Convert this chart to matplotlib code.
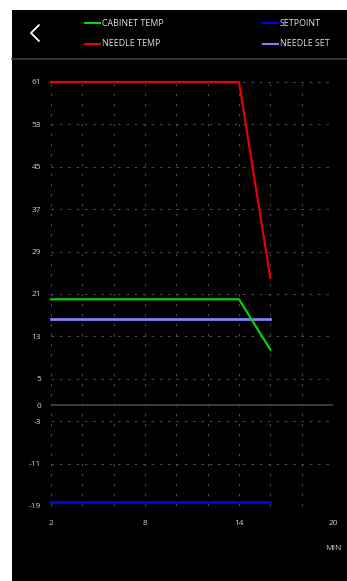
import matplotlib
matplotlib.use("Agg")
import matplotlib.pyplot as plt
from matplotlib.lines import Line2D
from matplotlib.patches import Rectangle

minutes = [2, 14, 16]
needle_temp = [61, 61, 24]
cabinet_temp = [20, 20, 10.5]
setpoint_x = [2, 16]
setpoint = [-18.2, -18.2]
needle_set_x = [2, 16]
needle_set = [16.3, 16.3]

y_ticks = [61, 53, 45, 37, 29, 21, 13, 5, 0, -3, -11, -19]
x_ticks = [2, 8, 14, 20]

series = ["CABINET TEMP", "NEEDLE TEMP", "SETPOINT", "NEEDLE SET"]
colors = ["#00dd00", "#ee0000", "#0000ee", "#8080ff"]

W, H = 347, 581
fig = plt.figure(figsize=(W / 100, H / 100), dpi=100)
fig.patch.set_facecolor("white")

def fx(px):
    return px / W

def fy(py):
    return 1 - py / H

# black screen panel + header separator
fig.add_artist(Rectangle((fx(12), 0), 1 - fx(12), fy(10), transform=fig.transFigure,
                         facecolor="black", edgecolor="none", zorder=0))
fig.add_artist(Line2D([fx(12), 1], [fy(59), fy(59)], color="#3a3a3a", lw=1.2))

# back chevron
fig.add_artist(Line2D([fx(39), fx(31), fx(39)], [fy(25), fy(33), fy(41)],
                      color="white", lw=1.3, solid_capstyle="round"))

# legend in header
legend_pos = [(85, 23), (85, 44), (263, 23), (263, 44)]
for name, c, (lx, ly) in zip(series, colors, legend_pos):
    fig.add_artist(Line2D([fx(lx), fx(lx + 15)], [fy(ly), fy(ly)], color=c, lw=1.5))
    fig.text(fx(lx + 17), fy(ly), name, color="#e0e0e0", fontsize=6.4,
             family="Open Sans", va="center", ha="left")

ax = fig.add_axes([fx(51), fy(506), fx(333) - fx(51), fy(82) - fy(506)])
ax.set_facecolor("black")
ax.set_xlim(2, 20)
ax.set_ylim(-19, 61)

ax.plot(minutes, needle_temp, color=colors[1], lw=1.5, clip_on=False, zorder=4)
ax.plot(minutes, cabinet_temp, color=colors[0], lw=1.5, clip_on=False, zorder=4)
ax.plot(setpoint_x, setpoint, color=colors[2], lw=2, clip_on=False, zorder=4)
ax.plot(needle_set_x, needle_set, color=colors[3], lw=2, clip_on=False, zorder=3)
ax.axhline(0, color="#444444", lw=1.2, zorder=2)

for y in y_ticks:
    if y != 0:
        ax.axhline(y, color="#5a5a5a", lw=0.6, ls=(0, (3, 7)), zorder=1)
for x in range(2, 21, 2):
    ax.axvline(x, color="#5a5a5a", lw=0.6, ls=(0, (3, 9)), zorder=1)

for s in ax.spines.values():
    s.set_visible(False)
ax.set_yticks(y_ticks)
ax.set_yticklabels([str(v) for v in y_ticks])
ax.set_xticks(x_ticks)
ax.set_xticklabels([str(v) for v in x_ticks])
ax.tick_params(axis="y", length=0, colors="#d0d0d0", labelsize=6, pad=7)
ax.tick_params(axis="x", length=0, colors="#d0d0d0", labelsize=6, pad=10)
for lab in ax.get_xticklabels() + ax.get_yticklabels():
    lab.set_family("Open Sans")

fig.text(fx(342), fy(548), "MIN", color="#d0d0d0", fontsize=6, family="Open Sans",
         ha="right", va="center")

fig.savefig("out.png", dpi=100, facecolor=fig.get_facecolor())
